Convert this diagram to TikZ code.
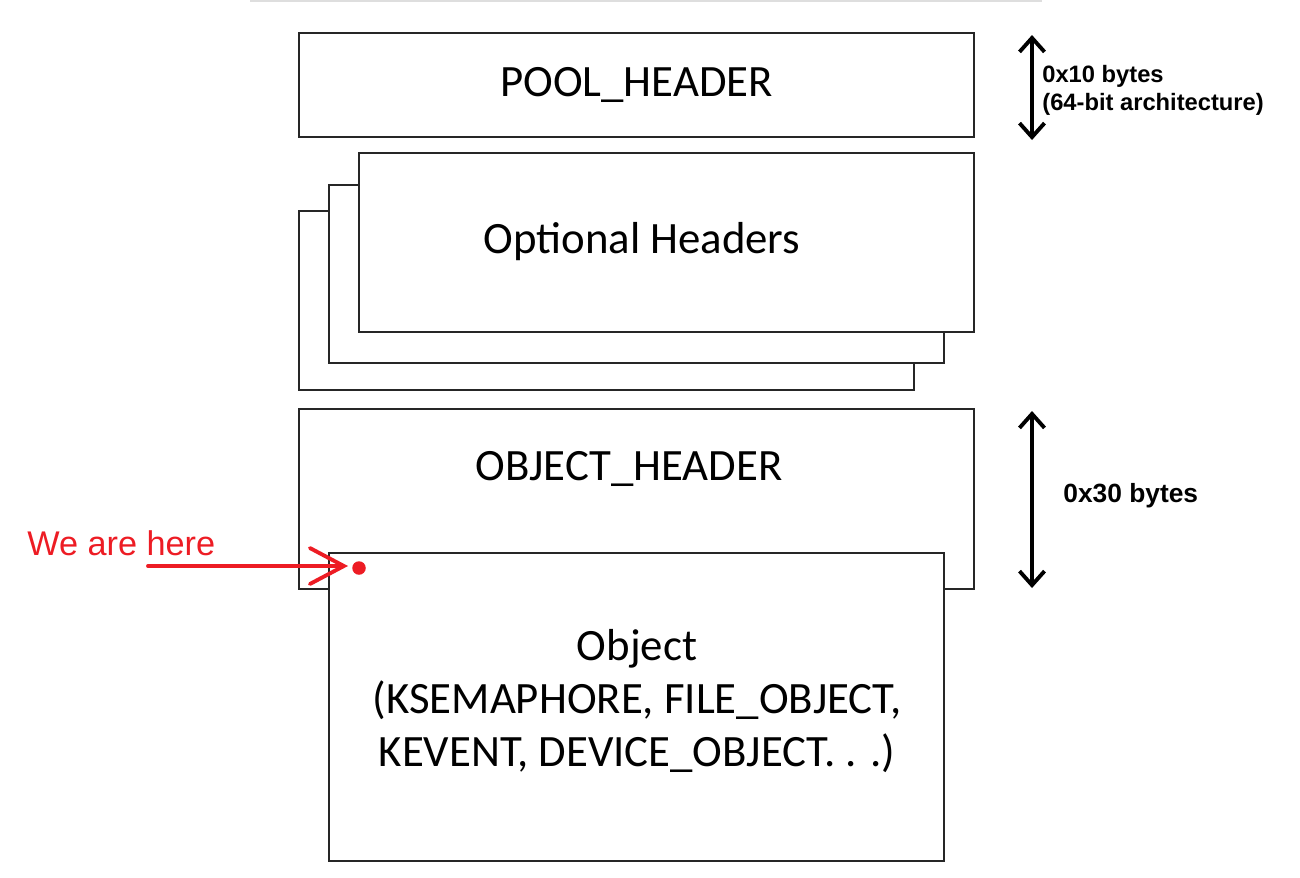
\documentclass[tikz,border=0pt]{standalone}
\usepackage{fontspec}
\setmainfont{Carlito}
\newfontfamily\arialfont{Liberation Sans}
\usetikzlibrary{arrows.meta}
\definecolor{herered}{RGB}{237,28,36}
\definecolor{topgrey}{RGB}{222,222,222}

\begin{document}
\begin{tikzpicture}[x=0.02cm,y=-0.02cm,
  box/.style={draw=black!85, line width=0.8pt, fill=white, rectangle, inner sep=0pt, outer sep=0pt,
    align=center, font=\fontsize{25.5}{30.2}\selectfont},
  sizelabel/.style={anchor=west, inner sep=0pt, align=left, font=\arialfont\bfseries},
  sizearrow/.style={{Straight Barb[length=0.28cm,width=0.5cm]}-{Straight Barb[length=0.28cm,width=0.5cm]}, line width=2.2pt}]
  \useasboundingbox (0,0) rectangle (1300,877);
  \draw[topgrey, line width=1.2pt] (250,0.8) -- (1042,0.8);

  % pool header
  \node[box, minimum width=13.5cm, minimum height=2.08cm] (pool) at (636.5,85) {POOL\_HEADER};

  % optional headers, stacked
  \node[box, minimum width=12.3cm, minimum height=3.58cm] (opt3) at (606.5,300.5) {};
  \node[box, minimum width=12.3cm, minimum height=3.56cm] (opt2) at (636.5,274) {};
  \node[box, minimum width=12.3cm, minimum height=3.58cm] (opt1) at (666.5,242.5) {};
  \node[inner sep=0pt, font=\fontsize{25.5}{30.2}\selectfont] (optlabel) at (642,242) {Optional Headers};

  % object header and object
  \node[box, minimum width=13.5cm, minimum height=3.6cm] (objhdr) at (636.5,499) {};
  \node[inner sep=0pt, font=\fontsize{25.5}{30.2}\selectfont] (hdrlabel) at (629,469) {OBJECT\_HEADER};
  \node[box, minimum width=12.3cm, minimum height=6.16cm] (obj) at (636.5,707) {};
  \node[inner sep=0pt, align=center, font=\fontsize{25.5}{30.2}\selectfont] (objlabel) at (637,701)
    {Object\\(KSEMAPHORE, FILE\_OBJECT,\\KEVENT, DEVICE\_OBJECT. . .)};

  % sizes
  \coordinate (p1) at (1032,35);
  \coordinate (p2) at (1032,140);
  \draw[sizearrow] (p1) -- (p2);
  \node[sizelabel, font=\arialfont\bfseries\fontsize{13.5}{16}\selectfont] (poolsize) at (1042,90)
    {0x10 bytes\\(64-bit architecture)};
  \coordinate (h1) at (1032,411);
  \coordinate (h2) at (1032,588);
  \draw[sizearrow] (h1) -- (h2);
  \node[sizelabel, font=\arialfont\bfseries\fontsize{15}{18}\selectfont] (hdrsize) at (1063,496) {0x30 bytes};

  % we are here
  \node[anchor=west, inner sep=0pt, text=herered, font=\arialfont\fontsize{19.5}{23}\selectfont] (here) at (27,543) {We are here};
  \node[circle, fill=herered, inner sep=0pt, minimum size=0.27cm] (dot) at (359,568) {};
  \coordinate (hs) at (148,566);
  \coordinate (ht) at (348,566);
  \draw[herered, line width=2.2pt, line cap=round, -{Straight Barb[length=0.68cm,width=0.72cm,line cap=round]}] (hs) -- (ht);
\end{tikzpicture}
\end{document}
